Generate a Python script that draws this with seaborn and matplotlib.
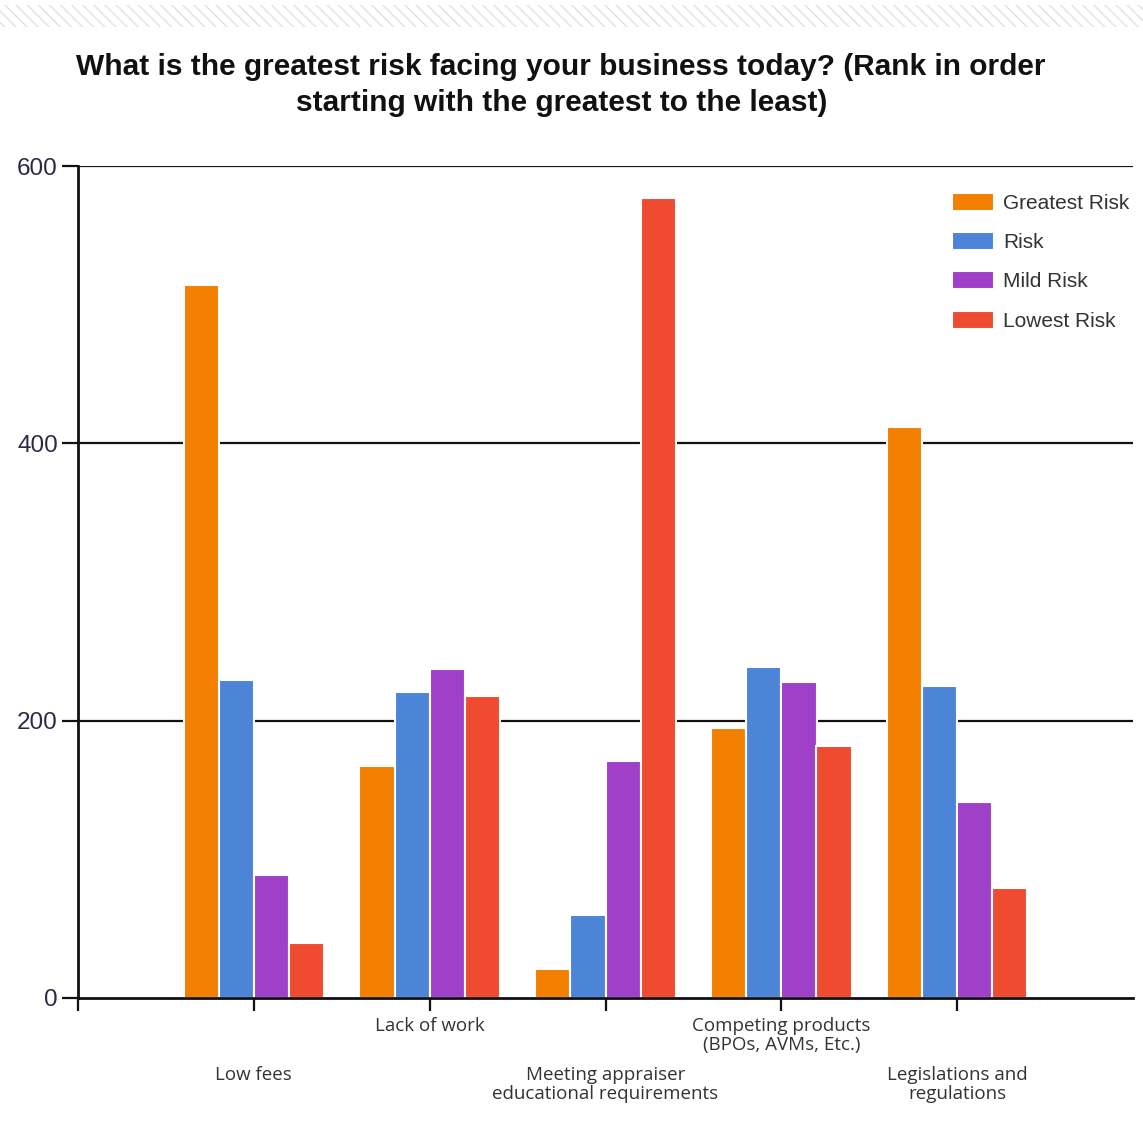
import matplotlib
matplotlib.use("Agg")
import matplotlib.pyplot as plt
from matplotlib.patches import Rectangle
import pandas as pd
import seaborn as sns

categories = [
    "Low fees",
    "Lack of work",
    "Meeting appraiser\neducational requirements",
    "Competing products\n(BPOs, AVMs, Etc.)",
    "Legislations and\nregulations",
]
series_names = ["Greatest Risk", "Risk", "Mild Risk", "Lowest Risk"]
greatest_risk = [514, 167, 21, 195, 412]
risk = [229, 221, 60, 239, 225]
mild_risk = [89, 237, 171, 228, 141]
lowest_risk = [40, 218, 577, 182, 79]
y_ticks = [0, 200, 400, 600]

palette = ["#f27f00", "#4c85d8", "#a03fc8", "#ef4b31"]

rows = []
for name, vals in zip(series_names, [greatest_risk, risk, mild_risk, lowest_risk]):
    for cat, v in zip(categories, vals):
        rows.append({"category": cat, "series": name, "value": v})
df = pd.DataFrame(rows)

sns.set_theme(style="white")
plt.rcParams["font.family"] = ["Liberation Sans", "DejaVu Sans"]

fig = plt.figure(figsize=(11.43, 11.21), dpi=100)
ax = fig.add_axes([78 / 1143, 1 - 998 / 1121, (1133 - 78) / 1143, (998 - 166) / 1121])

sns.barplot(data=df, x="category", y="value", hue="series", order=categories,
            hue_order=series_names, palette=palette, width=0.8, saturation=1,
            edgecolor="white", linewidth=1.5, ax=ax, zorder=3)

# horizontal reference lines
for y in y_ticks[1:]:
    ax.axhline(y, color="#111111", lw=1.6, zorder=1)

ax.set_ylim(0, 600)
ax.set_xlim(-1, 5)
ax.set_yticks(y_ticks)
ax.set_yticklabels([str(t) for t in y_ticks], fontsize=17.5, color="#2a2a44")
ax.set_xticks([-1, 0, 1, 2, 3, 4])
ax.set_xticklabels([""] + categories, fontsize=13.5, color="#333333",
                   family=["Open Sans", "DejaVu Sans"], linespacing=1.05)
ax.set_xlabel("")
ax.set_ylabel("")

ax.tick_params(axis="y", length=11.5, width=1.6, color="#111111", pad=3, left=True)
ax.tick_params(axis="x", length=9, width=1.6, color="#111111", bottom=True)
for i, tick in enumerate(ax.xaxis.get_major_ticks()):
    if i in (1, 3, 5):
        tick.set_pad(40)
    else:
        tick.set_pad(5)

for side in ("top", "right"):
    ax.spines[side].set_visible(False)
for side in ("left", "bottom"):
    ax.spines[side].set_color("#111111")
    ax.spines[side].set_linewidth(2)
    ax.spines[side].set_zorder(5)

leg = ax.legend(loc="upper left", bbox_to_anchor=(0.8205, 0.978), frameon=False,
                fontsize=15, handlelength=2.0, handleheight=0.95,
                labelspacing=0.92, handletextpad=0.45, borderaxespad=0)
for t in leg.get_texts():
    t.set_color("#333333")

fig.suptitle("What is the greatest risk facing your business today? (Rank in order\n"
             "starting with the greatest to the least)",
             x=0.491, y=0.953, fontsize=21.5, fontweight="bold", color="#111111",
             linespacing=1.38)

# decorative hatched strip across the top
fig.patches.append(Rectangle((0, 1 - 27 / 1121), 1, 22 / 1121, transform=fig.transFigure,
                             facecolor="none", edgecolor="#e2e2e2", hatch="\\\\\\",
                             linewidth=0, figure=fig))

fig.savefig("out.png", dpi=100, facecolor="white")
